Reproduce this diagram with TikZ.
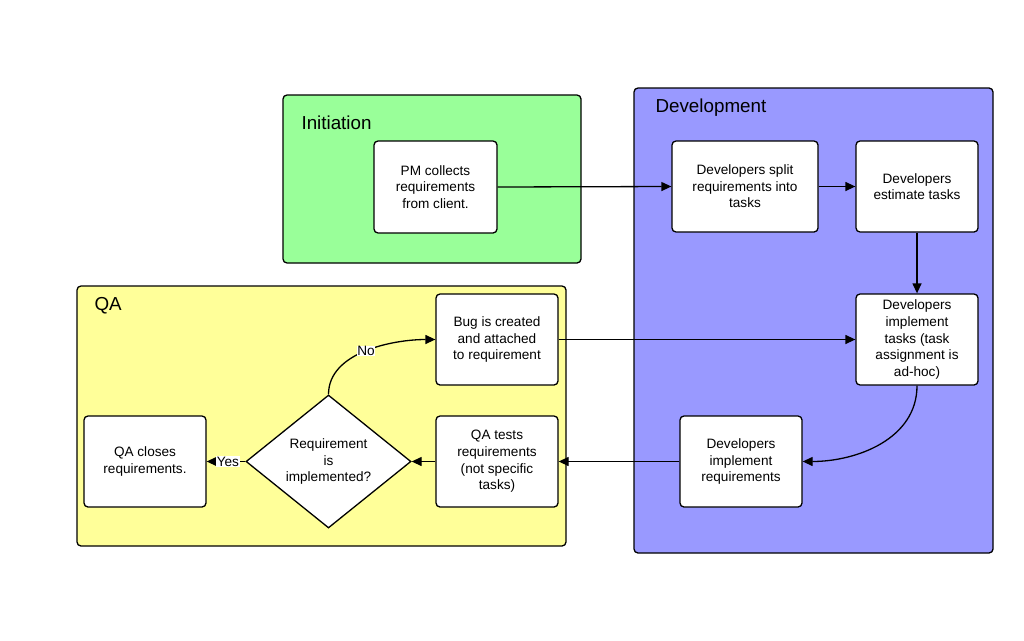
\documentclass[tikz,border=0pt]{standalone}
\usepackage{fontspec}
\setmainfont{Liberation Sans}
\usetikzlibrary{shapes.geometric,arrows.meta}
\begin{document}
\begin{tikzpicture}[x=1pt,y=-1pt,
  lane/.style={draw=black,line width=1.3pt,rounded corners=4pt},
  lanetitle/.style={anchor=west,font=\fontsize{18.8}{22}\selectfont},
  stepbox/.style={draw=black,line width=1.3pt,fill=white,rounded corners=4pt,
    minimum width=122pt,minimum height=91pt,align=center,inner sep=2pt,
    font=\fontsize{13.6}{16.6}\selectfont},
  decision/.style={draw=black,line width=1.3pt,fill=white,diamond,
    minimum width=165pt,minimum height=133pt,aspect=1.24,inner sep=0pt,align=center,
    font=\fontsize{13.6}{16.6}\selectfont},
  flow/.style={line width=1.3pt,-{Triangle[length=10pt,width=9pt]}},
  tag/.style={fill=white,inner sep=0.5pt,font=\fontsize{13.6}{15}\selectfont}]
\useasboundingbox (0,0) rectangle (1024,640);
\fill[white] (0,0) rectangle (1024,640);

% swim lanes
\draw[lane,fill={rgb,255:red,153;green,255;blue,153}] (283,95) rectangle (581,263);
\node[lanetitle] (tinit) at (298,123) {Initiation};
\draw[lane,fill={rgb,255:red,153;green,153;blue,255}] (634,88) rectangle (993,553);
\node[lanetitle] (tdev) at (652,108) {Development};
\draw[lane,fill={rgb,255:red,255;green,255;blue,153}] (77,286) rectangle (566,546);
\node[lanetitle] (tqa) at (91,305.5) {QA};

% steps
\node[stepbox,minimum width=123pt,minimum height=92pt] (pm) at (435.5,187) {PM collects\\requirements\\from client.};
\node[stepbox,minimum width=146pt] (split) at (745,186.5) {Developers split\\requirements into\\tasks};
\node[stepbox] (est) at (917,186.5) {Developers\\estimate tasks};
\node[stepbox] (impl) at (917,339.5) {Developers\\implement\\tasks (task\\assignment is\\ad-hoc)};
\node[stepbox] (implreq) at (741,461.5) {Developers\\implement\\requirements};
\node[stepbox] (bug) at (497,339.5) {Bug is created\\and attached\\to requirement};
\node[stepbox] (test) at (497,461.5) {QA tests\\requirements\\(not specific\\tasks)};
\node[decision] (dec) at (328.5,461.5) {Requirement\\is\\implemented?};
\node[stepbox] (close) at (145,461.5) {QA closes\\requirements.};

% connectors
\draw[flow] (pm.east) -- (split.west);
\draw[flow] (split.east) -- (est.west);
\draw[flow] (est.south) -- (impl.north);
\draw[flow] (bug.east) -- (impl.west |- bug.east);
\draw[flow] (impl.south) to[out=-90,in=0] (implreq.east);
\draw[flow] (implreq.west) -- (test.east);
\draw[flow] (test.west) -- (dec.east);
\draw[flow] (dec.west) -- node[tag,pos=0.45] (yes) {Yes} (close.east);
\draw[flow] (dec.north) to[out=90,in=180,looseness=0.9] node[tag,pos=0.5] (no) {No} (bug.west);
\end{tikzpicture}
\end{document}
